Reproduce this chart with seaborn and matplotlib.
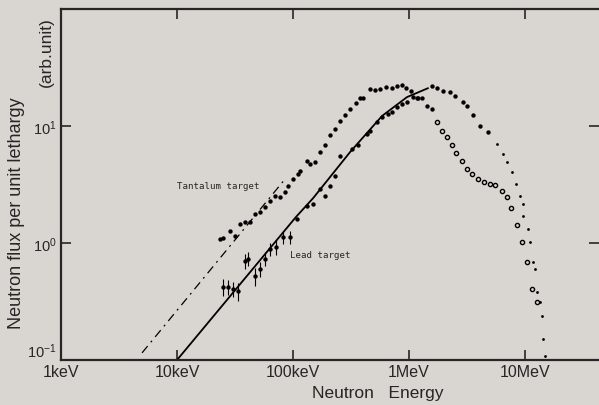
import matplotlib
matplotlib.use("Agg")
import matplotlib.pyplot as plt
import seaborn as sns
import pandas as pd
import numpy as np

# energies in keV, flux in arbitrary units
ta_rise_e = [23.5, 24.9, 28.6, 31.6, 34.9, 38.6, 42.6, 47.0, 51.9, 57.4, 63.4, 70.0, 77.2,
             85.3, 90.6, 100, 110, 115, 132, 140, 155, 171, 189, 208, 230, 254, 281, 310,
             349, 378, 401, 461, 509, 562, 634, 713, 788, 871, 942, 1041, 1172, 1294, 1430, 1578]
ta_rise_f = [1.08, 1.10, 1.27, 1.15, 1.45, 1.51, 1.51, 1.77, 1.84, 2.03, 2.28, 2.52, 2.47,
             2.73, 3.07, 3.52, 3.89, 4.12, 5.02, 4.73, 4.92, 5.99, 6.88, 8.38, 9.43, 11.0, 12.4, 14.0,
             15.7, 17.3, 17.3, 20.7, 20.3, 20.7, 21.5, 21.1, 22.0, 22.4, 21.1, 19.9, 17.3, 17.3, 14.8, 14.0]

ta_fall_e = [1742, 1924, 2127, 2348, 2543, 2864, 3162, 3493, 3936, 4433, 4990, 5510,
             6339, 6997, 7568, 8528, 9413, 10400, 11490, 12680]
ta_fall_f = [10.8, 9.06, 8.06, 6.88, 5.88, 5.02, 4.29, 3.89, 3.52, 3.32, 3.19, 3.13,
             2.78, 2.47, 1.99, 1.43, 1.02, 0.688, 0.405, 0.313]

pb_e = [24.9, 27.5, 30.4, 33.6, 38.6, 40.9, 47.0, 51.9, 57.4, 63.4, 71.3, 82.0, 94.2,
        108, 132, 149, 171, 189, 208, 230, 254, 323, 363, 434, 461, 530, 585, 659, 713,
        788, 871, 961, 1082, 1196, 1578, 1742, 1963, 2255, 2494, 2924, 3162, 3565, 4093, 4797]
pb_f = [0.421, 0.421, 0.405, 0.389, 0.701, 0.730, 0.522, 0.600, 0.730, 0.889, 0.924, 1.12, 1.12,
        1.60, 2.07, 2.15, 2.89, 2.52, 3.07, 3.74, 5.54, 6.36, 6.88, 8.55, 9.06, 10.8, 11.9, 12.7, 13.2,
        14.5, 15.4, 16.0, 17.7, 17.3, 22.0, 21.1, 19.9, 19.5, 18.0, 16.0, 14.8, 12.4, 10.0, 8.89]
pb_err = [0.07, 0.06, 0.06, 0.07, 0.10, 0.10, 0.09, 0.09, 0.10, 0.12, 0.13, 0.14, 0.14]

pb_tail_e = [5738, 6461, 6997, 7721, 8356, 9050, 9608, 9608, 10610, 11040, 11720,
             12190, 12680, 13460, 14020, 14300, 14870]
pb_tail_f = [7.02, 5.76, 4.92, 4.04, 3.19, 2.52, 2.15, 1.70, 1.32, 1.02, 0.688,
             0.600, 0.381, 0.313, 0.238, 0.151, 0.108]

fit_pb_e = [10, 106, 149, 310, 585, 961, 1459]
fit_pb_f = [0.1, 1.67, 2.42, 5.99, 12.2, 17.7, 21.1]
fit_ta_e = [4.99, 85.3]
fit_ta_f = [0.115, 3.52]

xticks = [1, 10, 100, 1000, 10000]
xticklabels = ["1keV", "10keV", "100keV", "1MeV", "10MeV"]
yticks = [0.1, 1, 10]
yticklabels = ["$\\mathregular{10^{-1}}$", "$\\mathregular{10^{0}}$", "$\\mathregular{10^{1}}$"]

bg = "#d9d6d1"
sns.set_style("ticks")
plt.rcParams["font.family"] = ["Liberation Sans", "DejaVu Sans"]

fig = plt.figure(figsize=(5.99, 4.06), dpi=100, facecolor=bg)
ax = fig.add_axes([0.102, 0.111, 0.898, 0.864], facecolor=bg)

sns.lineplot(x=fit_pb_e, y=fit_pb_f, color="black", lw=1.3, ax=ax, sort=False)
sns.lineplot(x=fit_ta_e, y=fit_ta_f, color="black", lw=0.9, ax=ax, sort=False,
             linestyle=(0, (7, 4, 1.5, 4)))

ax.errorbar(pb_e[:len(pb_err)], pb_f[:len(pb_err)],
            yerr=pb_err, fmt="none", ecolor="black", elinewidth=0.8)
sns.scatterplot(x=ta_rise_e, y=ta_rise_f, color="black", s=10, linewidth=0, ax=ax)
sns.scatterplot(x=pb_e, y=pb_f, color="black", s=10, linewidth=0, ax=ax)
sns.scatterplot(x=ta_fall_e, y=ta_fall_f, facecolor=bg, edgecolor="black", s=9,
                linewidth=1.0, ax=ax)
sns.scatterplot(x=pb_tail_e, y=pb_tail_f, color="black", s=4, linewidth=0, ax=ax)

ax.set_xscale("log")
ax.set_yscale("log")
ax.set_xlim(1, 43450)
ax.set_ylim(0.1, 100)
ax.set_xticks(xticks)
ax.set_xticklabels(xticklabels, fontsize=11.5, fontweight="medium")
ax.set_yticks(yticks)
ax.set_yticklabels(yticklabels, fontsize=10.5)
ax.get_yticklabels()[0].set_va("bottom")
ax.minorticks_off()
ax.tick_params(direction="in", length=7, width=1.2, top=True, right=True, pad=3)

for s in ["left", "bottom", "top"]:
    ax.spines[s].set_linewidth(1.6)
ax.spines["right"].set_visible(False)

ax.text(10, 3.1, "Tantalum target", fontsize=6.6, family="DejaVu Sans Mono", va="center")
ax.text(94, 0.79, "Lead target", fontsize=6.6, family="DejaVu Sans Mono", va="center")

fig.text(0.63, 0.032, "Neutron   Energy", fontsize=12.5, ha="center", va="center")
fig.text(0.027, 0.475, "Neutron flux per unit lethargy", fontsize=13, rotation=90,
         ha="center", va="center")
fig.text(0.077, 0.872, "(arb.unit)", fontsize=12.5, rotation=90, ha="center", va="center")

fig.savefig("out.png", dpi=100, facecolor=bg)
